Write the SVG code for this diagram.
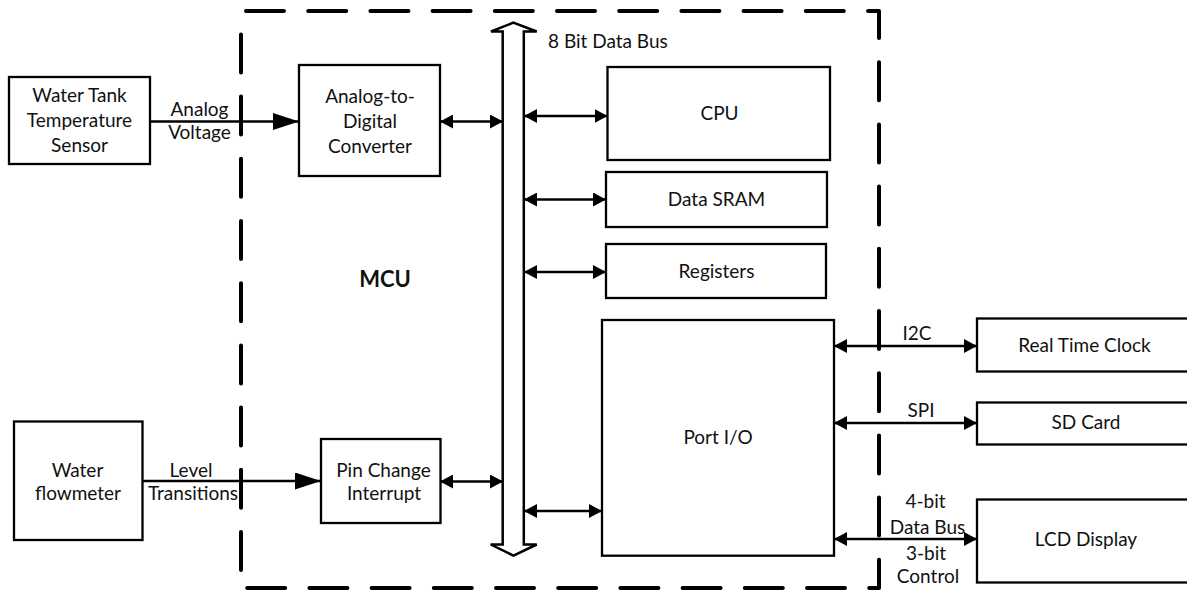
<svg xmlns="http://www.w3.org/2000/svg" width="1187" height="591" viewBox="0 0 1187 591">
<defs>
<style>
.box{fill:#fff;stroke:#000;stroke-width:2.3}
.t{font-family:Lato,"Liberation Sans",sans-serif;font-size:19px;fill:#111;text-anchor:middle}
.b{font-weight:bold;font-size:22px}
.c{stroke:#000;stroke-width:2.3;fill:none}
.in{marker-end:url(#big)}
.bi{marker-start:url(#sm);marker-end:url(#sm)}
</style>
<marker id="big" markerUnits="userSpaceOnUse" markerWidth="26" markerHeight="17" refX="26" refY="8.5" orient="auto"><path d="M0,0 L26,8.5 L0,17 Z" fill="#000"/></marker>
<marker id="sm" markerUnits="userSpaceOnUse" markerWidth="13" markerHeight="14" refX="13" refY="7" orient="auto-start-reverse"><path d="M0,0 L13,7 L0,14 Z" fill="#000"/></marker>
</defs>
<rect width="1187" height="591" fill="#fff"/>

<g id="mcu-border">
<path d="M246,11 H879 V588 H241 V11" fill="none" stroke="#000" stroke-width="4" stroke-dasharray="38 24.2" stroke-linecap="round" stroke-linejoin="round"/>
<text class="t b" x="385" y="287">MCU</text>
</g>

<g id="connectors">
<path class="c in" d="M150,121.5 H299"/>
<path class="c in" d="M142,481 H321"/>
<path class="c bi" d="M440,121.5 H503"/>
<path class="c bi" d="M440,481.5 H503"/>
<path class="c bi" d="M524,116 H607.5"/>
<path class="c bi" d="M524,199.5 H606"/>
<path class="c bi" d="M524,272 H606"/>
<path class="c bi" d="M524,511 H602"/>
<path class="c bi" d="M834,346 H977"/>
<path class="c bi" d="M834,423 H977"/>
<path class="c bi" d="M834,539 H977"/>
<text class="t" x="199.5" y="115.5">Analog</text>
<text class="t" x="199.5" y="139">Voltage</text>
<text class="t" x="191" y="476.5">Level</text>
<text class="t" x="193" y="500">Transitions</text>
<text class="t" x="917" y="339.5">I2C</text>
<text class="t" x="921" y="416.5">SPI</text>
<text class="t" x="925.5" y="507.5">4-bit</text>
<text class="t" x="927.5" y="533.5">Data Bus</text>
<text class="t" x="926" y="559.5">3-bit</text>
<text class="t" x="928" y="582.5">Control</text>
</g>

<g id="data-bus">
<path d="M502.7,544.5 V31.5 H491 L513.3,22.7 L536.7,31.5 H523.8 V544.5 H536.7 L513.5,555.7 L490.7,544.5 Z" fill="#fff" stroke="#000" stroke-width="2.5" stroke-linejoin="miter"/>
<text class="t" x="548" y="48" style="text-anchor:start">8 Bit Data Bus</text>
</g>

<g id="sensor">
<rect class="box" x="9" y="77" width="141" height="87"/>
<text class="t" x="79.5" y="102">Water Tank</text>
<text class="t" x="79.5" y="127">Temperature</text>
<text class="t" x="79.5" y="152">Sensor</text>
</g>

<g id="adc">
<rect class="box" x="299" y="65" width="141" height="111"/>
<text class="t" x="370" y="103">Analog-to-</text>
<text class="t" x="370" y="128">Digital</text>
<text class="t" x="370" y="153">Converter</text>
</g>

<g id="flowmeter">
<rect class="box" x="14" y="421.5" width="128.5" height="118.5"/>
<text class="t" x="77.5" y="476.5">Water</text>
<text class="t" x="78" y="500">flowmeter</text>
</g>

<g id="pin-change">
<rect class="box" x="321" y="439" width="119.5" height="84"/>
<text class="t" x="383.5" y="476.5">Pin Change</text>
<text class="t" x="384" y="500">Interrupt</text>
</g>

<g id="cpu">
<rect class="box" x="607.5" y="67" width="222.5" height="93"/>
<text class="t" x="719.5" y="120">CPU</text>
</g>

<g id="sram">
<rect class="box" x="606" y="172" width="221" height="55"/>
<text class="t" x="716.5" y="206">Data SRAM</text>
</g>

<g id="registers">
<rect class="box" x="606" y="244" width="220" height="54"/>
<text class="t" x="716.5" y="277.5">Registers</text>
</g>

<g id="port-io">
<rect class="box" x="602" y="320" width="232" height="235.7"/>
<text class="t" x="718" y="444">Port I/O</text>
</g>

<g id="rtc">
<rect class="box" x="977" y="318.5" width="230" height="53"/>
<text class="t" x="1084.5" y="352">Real Time Clock</text>
</g>

<g id="sd-card">
<rect class="box" x="977" y="402.5" width="230" height="42"/>
<text class="t" x="1086" y="429">SD Card</text>
</g>

<g id="lcd">
<rect class="box" x="977" y="499.5" width="230" height="83"/>
<text class="t" x="1086" y="546">LCD Display</text>
</g>
</svg>
